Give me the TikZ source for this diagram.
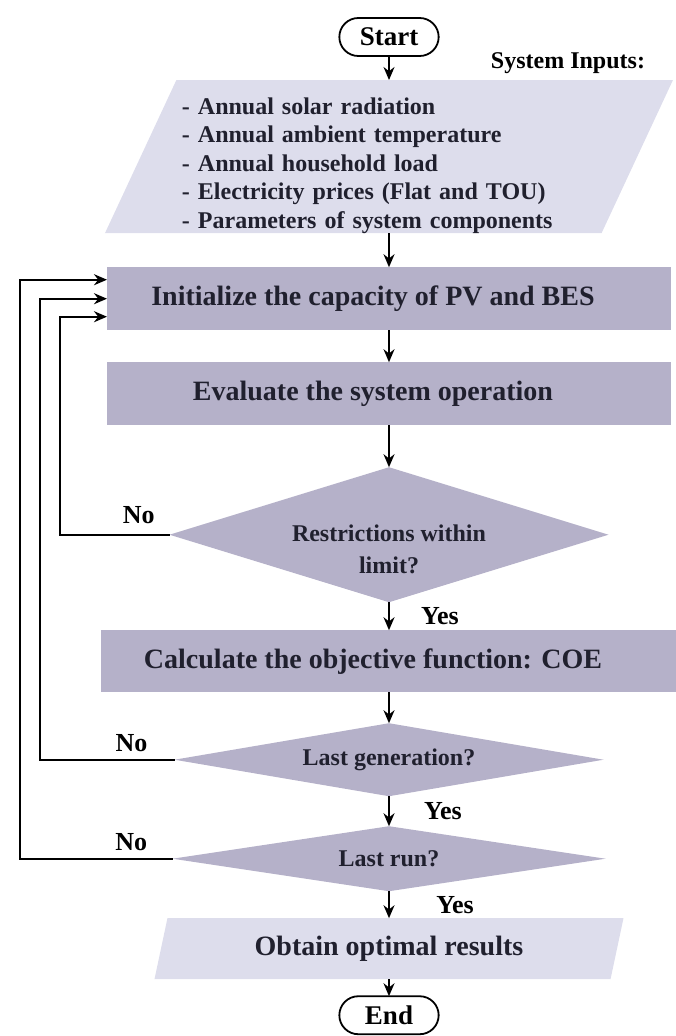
\documentclass[tikz,border=0pt]{standalone}
\usepackage{fontspec}
\setmainfont{Liberation Serif}
\usetikzlibrary{positioning, shapes.geometric, shapes.misc, arrows.meta}

\definecolor{boxfill}{RGB}{181,177,201}
\definecolor{iofill}{RGB}{221,221,236}
\definecolor{ink}{RGB}{32,32,46}

\tikzset{
  term/.style={rounded rectangle, draw, line width=1.8pt, fill=white, outer sep=0pt, minimum width=106pt, minimum height=38pt, font=\fontsize{27}{30}\selectfont\bfseries},
  io/.style={trapezium, trapezium left angle=65, trapezium right angle=115, trapezium stretches body, fill=iofill, text=ink, outer sep=0pt},
  process/.style={rectangle, fill=boxfill, outer sep=0pt, minimum width=564pt, minimum height=63pt, text=ink, font=\fontsize{28}{32}\selectfont\bfseries,
    execute at begin node={\hspace*{-32pt}}},
  decision/.style={diamond, fill=boxfill, inner sep=0pt, outer sep=0pt, text=ink, font=\fontsize{24}{32}\selectfont\bfseries},
  dtext/.style={align=center, text=ink, font=\fontsize{24}{32}\selectfont\bfseries},
  answer/.style={font=\fontsize{26}{30}\selectfont\bfseries}
}

\begin{document}
\begin{tikzpicture}[x=1pt, y=-1pt, ->, >={Stealth[length=13pt,width=11pt]}, line width=1.8pt]
  \useasboundingbox (0,0) rectangle (675,1036);

  % Create nodes
  \node[term] (start) at (389,37) {Start};
  \node[io, minimum width=568pt, minimum height=152pt, text width=414pt, align=left, inner ysep=0pt,
        font=\fontsize{24}{28.5}\selectfont\bfseries] (inputs) [below=24pt of start]
    {\rule{0pt}{34pt}- Annual solar radiation\\
     - Annual ambient temperature\\
     - Annual household load\\
     - Electricity prices (Flat and TOU)\\
     - Parameters of system components};
  \node[font=\fontsize{24}{28}\selectfont\bfseries] (sysin) at (568,63) {System Inputs:};

  \node[process] (init) [below=34pt of inputs] {Initialize the capacity of PV and BES};
  \node[process] (eval) [below=32pt of init] {Evaluate the system operation};
  \node[decision, minimum width=439pt, minimum height=135pt,
        label={[dtext, yshift=-15pt]center:{Restrictions within\\limit?}}] (res) [below=42pt of eval] {};
  \node[process, minimum width=576pt, minimum height=62pt] (calc) [below=28pt of res] {Calculate the objective function: COE};
  \node[decision, minimum width=429pt, minimum height=73pt, shape aspect=5.9] (gen) [below=31pt of calc] {Last generation?};
  \node[decision, minimum width=433pt, minimum height=65pt, shape aspect=6.6] (run) [below=30pt of gen] {Last run?};
  \node[io, trapezium left angle=68, trapezium right angle=112, minimum width=469pt, minimum height=61pt,
        font=\fontsize{28}{32}\selectfont\bfseries] (obtain) [below=27pt of run] {Obtain optimal results};
  \node[term] (end) [below=17pt of obtain] {End};

  % rails of the feedback loops
  \coordinate (outer) at (20,0);
  \coordinate (middle) at (40,0);
  \coordinate (inner) at (60,0);

  % main flow
  \path (start) edge (inputs)
        (inputs) edge (init)
        (init) edge (eval)
        (eval) edge (res)
        (res) edge node[answer, right=28pt] {Yes} (calc)
        (calc) edge (gen)
        (gen) edge node[answer, right=31pt] {Yes} (run)
        (run) edge node[answer, right=43pt] {Yes} (obtain)
        (obtain) edge (end);

  % back to the start of the loop
  \draw (res.west) -- (res.west -| inner) node[answer, above=7pt, pos=0.28] {No} |- ([yshift=-18pt]init.west);
  \draw (gen.west) -- (gen.west -| middle) node[answer, above=4pt, pos=0.32] {No} |- (init.west);
  \draw (run.west) -- (run.west -| outer) node[answer, above=4pt, pos=0.27] {No} |- ([yshift=19pt]init.west);
\end{tikzpicture}
\end{document}
